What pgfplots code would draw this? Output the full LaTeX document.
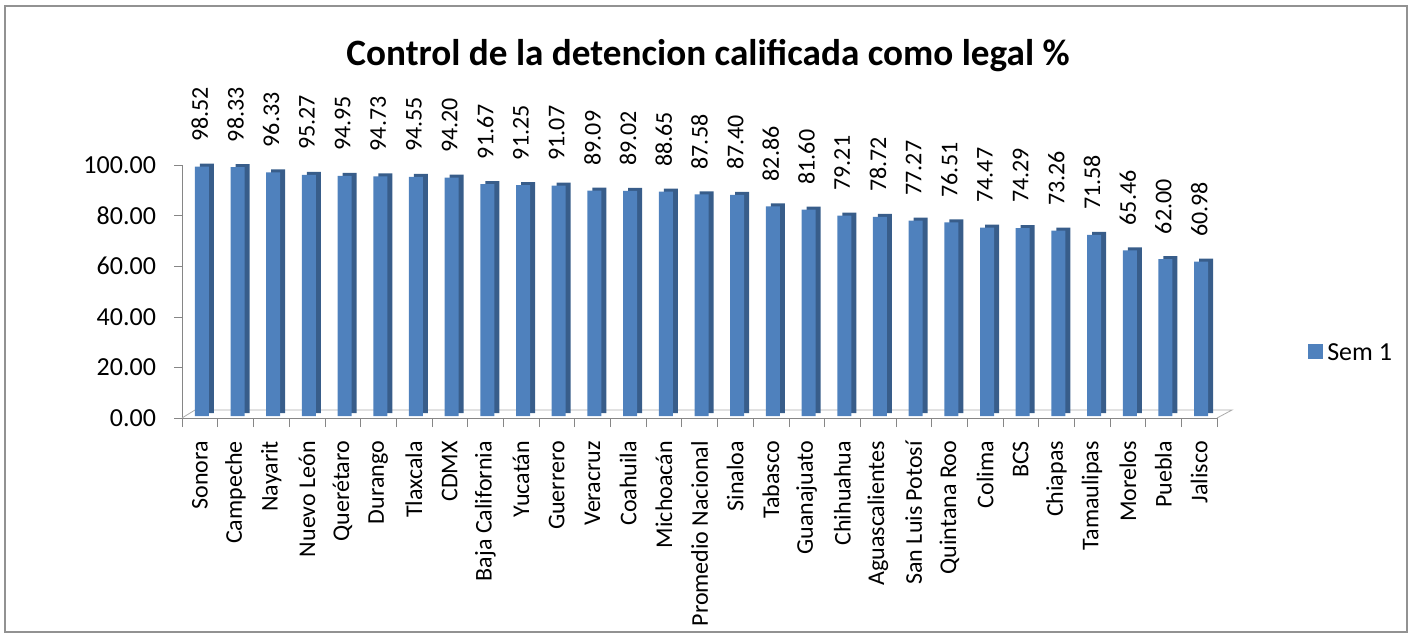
\documentclass[border=0pt]{standalone}
\usepackage{pgfplots}
\pgfplotsset{compat=1.18}
\usepackage{fontspec}
\setmainfont{Carlito}
\definecolor{barfront}{HTML}{4F81BD}
\definecolor{barside}{HTML}{385D8A}
\definecolor{axgray}{HTML}{868686}

\begin{document}
\begin{tikzpicture}
% bounding box and outer frame (1px = 0.5pt)
\path (-91pt,-110pt) rectangle (617pt,209pt);
\draw[axgray!90, line width=1pt] (-88.5pt,-107pt) rectangle (612.5pt,206pt);

\begin{axis}[
    scale only axis,
    width=517.5pt, height=126.5pt,
    xmin=-0.5, xmax=28.5,
    ymin=0, ymax=100,
    ytick={0,20,...,100},
    xtick={0,...,28},
    minor xtick={-0.5,0.5,...,28.5},
    xticklabels={Sonora,Campeche,Nayarit,Nuevo León,Querétaro,Durango,Tlaxcala,CDMX,Baja California,Yucatán,Guerrero,Veracruz,Coahuila,Michoacán,Promedio Nacional,Sinaloa,Tabasco,Guanajuato,Chihuahua,Aguascalientes,San Luis Potosí,Quintana Roo,Colima,BCS,Chiapas,Tamaulipas,Morelos,Puebla,Jalisco},
    x tick label style={rotate=90, anchor=east, font=\fontsize{12}{12}\selectfont, xshift=-4pt, xshift=0pt},
    y tick label style={font=\fontsize{13}{13}\selectfont, xshift=-5.5pt},
    yticklabel={\pgfmathprintnumber[fixed,fixed zerofill,precision=2]{\tick}},
    /pgf/number format/assume math mode=true,
    axis x line*=bottom, axis y line*=left,
    axis line style={axgray, -},
    tick align=outside,
    major x tick style={draw=none},
    minor x tick style={axgray},
    minor tick length=4.5pt,
    major tick length=4pt,
    ytick style={axgray},
    clip=false,
    legend style={at={(1.082,0.253)}, anchor=west, draw=none, fill=none,
        font=\fontsize{13}{13}\selectfont},
    legend image code/.code={\fill[barfront] (0pt,-3.75pt) rectangle (7.5pt,3.75pt);},
]
% 3D floor
\draw[axgray!70] (axis cs:-0.5,0) -- ++(6.5pt,4pt) -- ([xshift=7.5pt,yshift=4pt]axis cs:28.5,0) -- (axis cs:28.5,0);

% side/depth of the columns
\addplot[ybar, bar width=7pt, bar shift=1pt, fill=barside, draw=none, xshift=2.5pt, yshift=2.5pt, forget plot]
coordinates {
(0,98.52)(1,98.33)(2,96.33)(3,95.27)(4,94.95)(5,94.73)(6,94.55)(7,94.20)
(8,91.67)(9,91.25)(10,91.07)(11,89.09)(12,89.02)(13,88.65)(14,87.58)(15,87.40)
(16,82.86)(17,81.60)(18,79.21)(19,78.72)(20,77.27)(21,76.51)(22,74.47)(23,74.29)
(24,73.26)(25,71.58)(26,65.46)(27,62.00)(28,60.98)
};
% front of the columns
\addplot[ybar, bar width=7pt, bar shift=1pt, fill=barfront, draw=none, yshift=1pt,
    nodes near coords={\pgfmathprintnumber[fixed,fixed zerofill,precision=2]{\pgfplotspointmeta}},
    nodes near coords style={rotate=90, anchor=west, font=\fontsize{12}{12}\selectfont, text=black, xshift=9pt},
    point meta=y]
coordinates {
(0,98.52)(1,98.33)(2,96.33)(3,95.27)(4,94.95)(5,94.73)(6,94.55)(7,94.20)
(8,91.67)(9,91.25)(10,91.07)(11,89.09)(12,89.02)(13,88.65)(14,87.58)(15,87.40)
(16,82.86)(17,81.60)(18,79.21)(19,78.72)(20,77.27)(21,76.51)(22,74.47)(23,74.29)
(24,73.26)(25,71.58)(26,65.46)(27,62.00)(28,60.98)
};
\addlegendentry{Sem 1}

\node[font=\bfseries\fontsize{18.6}{18.6}\selectfont, anchor=center] at ([xshift=263pt,yshift=181pt]rel axis cs:0,0) {Control de la detencion calificada como legal \%};
\end{axis}
\end{tikzpicture}
\end{document}
